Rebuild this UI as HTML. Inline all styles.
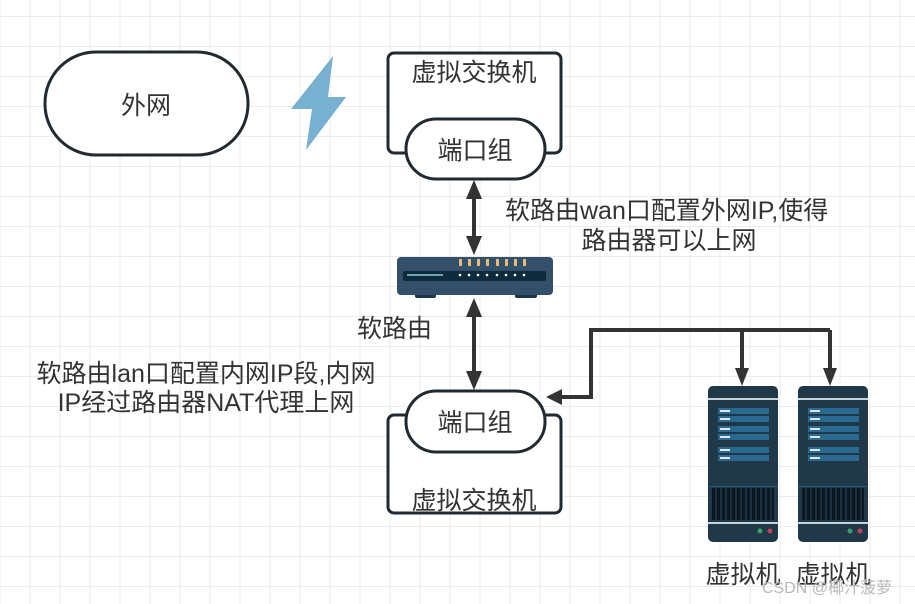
<!DOCTYPE html>
<html><head><meta charset="utf-8"><style>
html,body{margin:0;padding:0;background:#fff;}
svg{display:block;}
text{font-family:"Liberation Sans","Noto Sans CJK SC",sans-serif;fill:#333;font-size:25px;}
</style></head><body>
<svg width="915" height="604" viewBox="0 0 915 604" xmlns="http://www.w3.org/2000/svg">
<defs>
<pattern id="g" x="29.5" y="16" width="30" height="30" patternUnits="userSpaceOnUse">
<path d="M0 0H30M0 0V30" stroke="#ebebeb" stroke-width="2" fill="none"/>
</pattern>
</defs>
<rect width="915" height="604" fill="url(#g)"/>

<rect x="45" y="52" width="203" height="103" rx="51" fill="#fff" stroke="#222a30" stroke-width="3"/>
<text x="146" y="114" text-anchor="middle">外网</text>
<polygon points="333,56 328,97 346,97 306,150 312,109 291,109" fill="#77b0d0"/>

<rect x="388" y="53" width="173" height="100" rx="6" fill="#fff" stroke="#222a30" stroke-width="3"/>
<text x="474" y="81" text-anchor="middle">虚拟交换机</text>
<rect x="406" y="119" width="139" height="60" rx="30" fill="#fff" stroke="#222a30" stroke-width="3"/>
<text x="475" y="159" text-anchor="middle">端口组</text>

<line x1="474" y1="195" x2="474" y2="240" stroke="#333" stroke-width="4"/>
<polygon points="474,180 466,199 482,199" fill="#333"/>
<polygon points="474,255 466,236 482,236" fill="#333"/>
<line x1="474" y1="312" x2="474" y2="374" stroke="#333" stroke-width="4"/>
<polygon points="474,298 466,317 482,317" fill="#333"/>
<polygon points="474,390 466,371 482,371" fill="#333"/>

<rect x="415" y="293" width="21" height="5" rx="2" fill="#1d3446"/>
<rect x="515" y="293" width="22" height="5" rx="2" fill="#1d3446"/>
<rect x="397" y="257" width="156" height="38" rx="4" fill="#33506b"/>
<g fill="#e8b87a">
<rect x="459" y="259" width="3" height="7"/><rect x="468" y="259" width="3" height="7"/><rect x="477" y="259" width="3" height="7"/><rect x="486" y="259" width="3" height="7"/><rect x="496" y="259" width="3" height="7"/><rect x="505" y="259" width="3" height="7"/><rect x="514" y="259" width="3" height="7"/><rect x="523" y="259" width="3" height="7"/>
</g>
<rect x="403" y="271" width="143" height="10" rx="2" fill="#0f2a3a"/>
<rect x="407" y="274" width="36" height="2" fill="#6aa4b0"/>
<g fill="#fff">
<circle cx="460" cy="275" r="1.3"/><circle cx="469" cy="275" r="1.3"/><circle cx="478" cy="275" r="1.3"/><circle cx="487" cy="275" r="1.3"/><circle cx="497" cy="275" r="1.3"/><circle cx="506" cy="275" r="1.3"/><circle cx="515" cy="275" r="1.3"/><circle cx="524" cy="275" r="1.3"/>
</g>

<rect x="388" y="415" width="173" height="98" rx="6" fill="#fff" stroke="#222a30" stroke-width="3"/>
<rect x="406" y="391" width="139" height="61" rx="30" fill="#fff" stroke="#222a30" stroke-width="3"/>
<text x="475" y="431" text-anchor="middle">端口组</text>
<text x="474" y="509" text-anchor="middle">虚拟交换机</text>

<polyline points="560,397 591,397 591,330 830,330" fill="none" stroke="#333" stroke-width="4"/>
<polygon points="546,397 562,389 562,405" fill="#333"/>
<line x1="742" y1="330" x2="742" y2="370" stroke="#333" stroke-width="4"/>
<polygon points="742,386 735,368 749,368" fill="#333"/>
<line x1="830" y1="330" x2="830" y2="370" stroke="#333" stroke-width="4"/>
<polygon points="830,386 823,368 837,368" fill="#333"/>

<g id="srv">
<rect x="708" y="386" width="70" height="156" rx="5" fill="#203848"/>
<rect x="708" y="398" width="70" height="2" fill="#c8d4dc"/>
<g fill="#2a6a90">
<rect x="718" y="408" width="51" height="6"/><rect x="718" y="416" width="51" height="6"/>
<rect x="718" y="426" width="51" height="6"/><rect x="718" y="434" width="51" height="6"/>
<rect x="718" y="447" width="51" height="6"/><rect x="718" y="455" width="51" height="6"/>
</g>
<g fill="#dde6ee">
<rect x="720" y="410" width="10" height="2"/><rect x="720" y="418" width="10" height="2"/>
<rect x="720" y="428" width="10" height="2"/><rect x="720" y="436" width="10" height="2"/>
<rect x="720" y="449" width="10" height="2"/><rect x="720" y="457" width="10" height="2"/>
</g>
<rect x="708" y="486" width="70" height="1" fill="#1e5a7a"/>
<rect x="712" y="488" width="62" height="32" fill="#0b1620"/>
<g stroke="#203848" stroke-width="1.5">
<line x1="716" y1="488" x2="716" y2="520"/><line x1="721" y1="488" x2="721" y2="520"/><line x1="726" y1="488" x2="726" y2="520"/><line x1="731" y1="488" x2="731" y2="520"/><line x1="736" y1="488" x2="736" y2="520"/><line x1="741" y1="488" x2="741" y2="520"/><line x1="746" y1="488" x2="746" y2="520"/><line x1="751" y1="488" x2="751" y2="520"/><line x1="756" y1="488" x2="756" y2="520"/><line x1="761" y1="488" x2="761" y2="520"/><line x1="766" y1="488" x2="766" y2="520"/><line x1="771" y1="488" x2="771" y2="520"/>
</g>
<rect x="708" y="522" width="70" height="2" fill="#c8d4dc"/>
<circle cx="760" cy="531" r="2.5" fill="#3aa06a"/>
<circle cx="770" cy="531" r="2.5" fill="#c0405a"/>
</g>
<use href="#srv" x="90"/>

<text x="505" y="219">软路由wan口配置外网IP,使得</text>
<text x="669" y="249" text-anchor="middle">路由器可以上网</text>
<text x="357" y="337">软路由</text>
<text x="206" y="382" text-anchor="middle">软路由lan口配置内网IP段,内网</text>
<text x="206" y="411" text-anchor="middle">IP经过路由器NAT代理上网</text>
<text x="743" y="583" text-anchor="middle">虚拟机</text>
<text x="833" y="583" text-anchor="middle">虚拟机</text>
<text x="762" y="593" style="font-size:16px;fill:#b8b8b8;">CSDN @椰汁菠萝</text>
</svg>
</body></html>
